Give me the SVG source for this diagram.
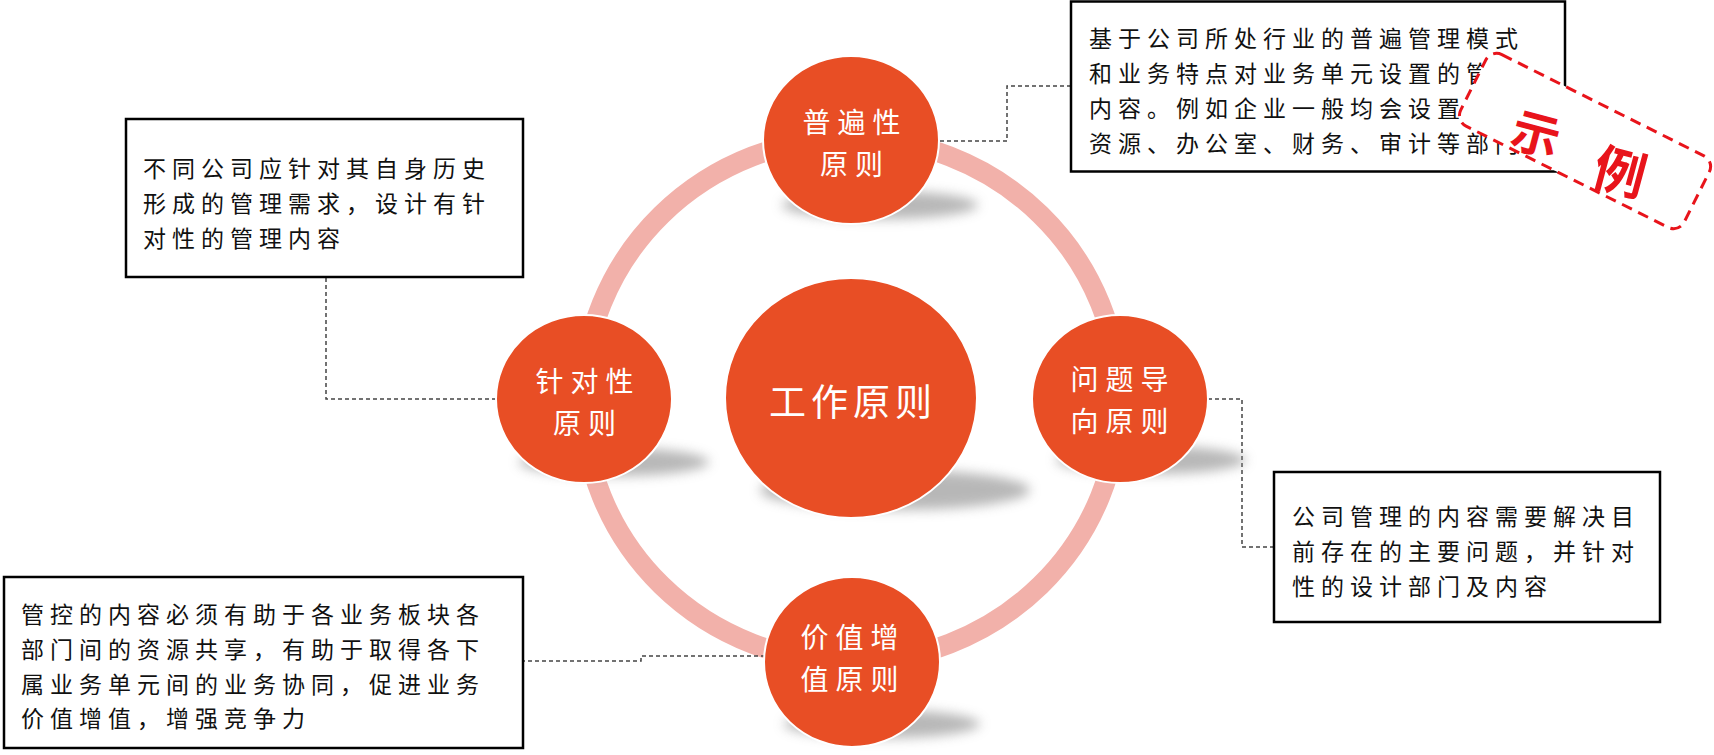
<svg xmlns="http://www.w3.org/2000/svg" width="1714" height="755" viewBox="0 0 1714 755">
<style>
.node{fill:#E84E25;stroke:#fff;stroke-width:2}
.shadow{fill:#9a9a9a;opacity:0.7;filter:url(#blur)}
.ctext{font-family:"Noto Sans CJK SC",sans-serif;fill:#fff;font-size:28px;letter-spacing:7px;text-anchor:middle;dominant-baseline:central}
.box{fill:#fff;stroke:#000;stroke-width:2.5}
.btext{font-family:"Noto Sans CJK SC",sans-serif;fill:#111;font-size:23px;letter-spacing:6px;dominant-baseline:central}
.conn{fill:none;stroke:#444;stroke-width:1.5;stroke-dasharray:4 3}
.stampch{font-family:"Noto Sans CJK SC",sans-serif;font-weight:bold;fill:#E8141B;text-anchor:middle;dominant-baseline:central}
</style>
<defs>
<filter id="blur" x="-30%" y="-100%" width="160%" height="300%"><feGaussianBlur stdDeviation="6"/></filter>
</defs>
<rect width="1714" height="755" fill="#fff"/>
<ellipse cx="851" cy="400" rx="268" ry="262" fill="none" stroke="#F2B1AA" stroke-width="20"/>
<g id="connectors">
<polyline class="conn" points="940,141 1007,141 1007,86 1071,86"/>
<polyline class="conn" points="326,278 326,399 497,399"/>
<polyline class="conn" points="1208,399 1242,399 1242,547 1273,547"/>
<polyline class="conn" points="765,656 641,656 641,661 523,661"/>
</g>
<g id="center">
<ellipse class="shadow" cx="895" cy="490" rx="135" ry="20"/>
<ellipse class="node" cx="851" cy="398" rx="126" ry="120"/>
<text class="ctext" x="853" y="400" style="font-size:37px;letter-spacing:5px">工作原则</text>
</g>
<g id="top">
<ellipse class="shadow" cx="880" cy="205" rx="98" ry="14"/>
<ellipse class="node" cx="851" cy="140" rx="88" ry="84"/>
<text class="ctext" x="855" y="121">普遍性</text>
<text class="ctext" x="855" y="163">原则</text>
</g>
<g id="left">
<ellipse class="shadow" cx="614" cy="462" rx="95" ry="14"/>
<ellipse class="node" cx="584" cy="399" rx="88" ry="84"/>
<text class="ctext" x="588" y="380">针对性</text>
<text class="ctext" x="588" y="422">原则</text>
</g>
<g id="right">
<ellipse class="shadow" cx="1151" cy="460" rx="95" ry="14"/>
<ellipse class="node" cx="1120" cy="399" rx="88" ry="84"/>
<text class="ctext" x="1123" y="378">问题导</text>
<text class="ctext" x="1123" y="420">向原则</text>
</g>
<g id="bottom">
<ellipse class="shadow" cx="882" cy="724" rx="98" ry="14"/>
<ellipse class="node" cx="852" cy="662" rx="88" ry="85"/>
<text class="ctext" x="853" y="636">价值增</text>
<text class="ctext" x="853" y="678">值原则</text>
</g>
<g id="box-top">
<rect class="box" x="1071" y="1.5" width="494" height="170"/>
<text class="btext" x="1089" y="37">基于公司所处行业的普遍管理模式</text>
<text class="btext" x="1089" y="72">和业务特点对业务单元设置的管理</text>
<text class="btext" x="1089" y="107">内容。例如企业一般均会设置人力</text>
<text class="btext" x="1089" y="142">资源、办公室、财务、审计等部门</text>
</g>
<g id="box-left">
<rect class="box" x="126" y="119" width="397" height="158"/>
<text class="btext" x="143" y="167">不同公司应针对其自身历史</text>
<text class="btext" x="143" y="202">形成的管理需求，设计有针</text>
<text class="btext" x="143" y="237">对性的管理内容</text>
</g>
<g id="box-right">
<rect class="box" x="1274" y="472" width="386" height="150"/>
<text class="btext" x="1292" y="515">公司管理的内容需要解决目</text>
<text class="btext" x="1292" y="550">前存在的主要问题，并针对</text>
<text class="btext" x="1292" y="585">性的设计部门及内容</text>
</g>
<g id="box-bottom">
<rect class="box" x="4" y="577" width="519" height="171"/>
<text class="btext" x="21" y="613">管控的内容必须有助于各业务板块各</text>
<text class="btext" x="21" y="648">部门间的资源共享，有助于取得各下</text>
<text class="btext" x="21" y="683">属业务单元间的业务协同，促进业务</text>
<text class="btext" x="21" y="717">价值增值，增强竞争力</text>
</g>
<g id="stamp">
<rect x="1460" y="101" width="250" height="80" rx="12" fill="#fff" stroke="#E8141B" stroke-width="3" stroke-dasharray="11 7" transform="rotate(26.6 1585 141)"/>
<text class="stampch" x="1537" y="131" font-size="48" transform="rotate(15 1537 131)">示</text>
<text class="stampch" x="1621" y="169" font-size="52" transform="rotate(15 1621 169)">例</text>
</g>
</svg>
